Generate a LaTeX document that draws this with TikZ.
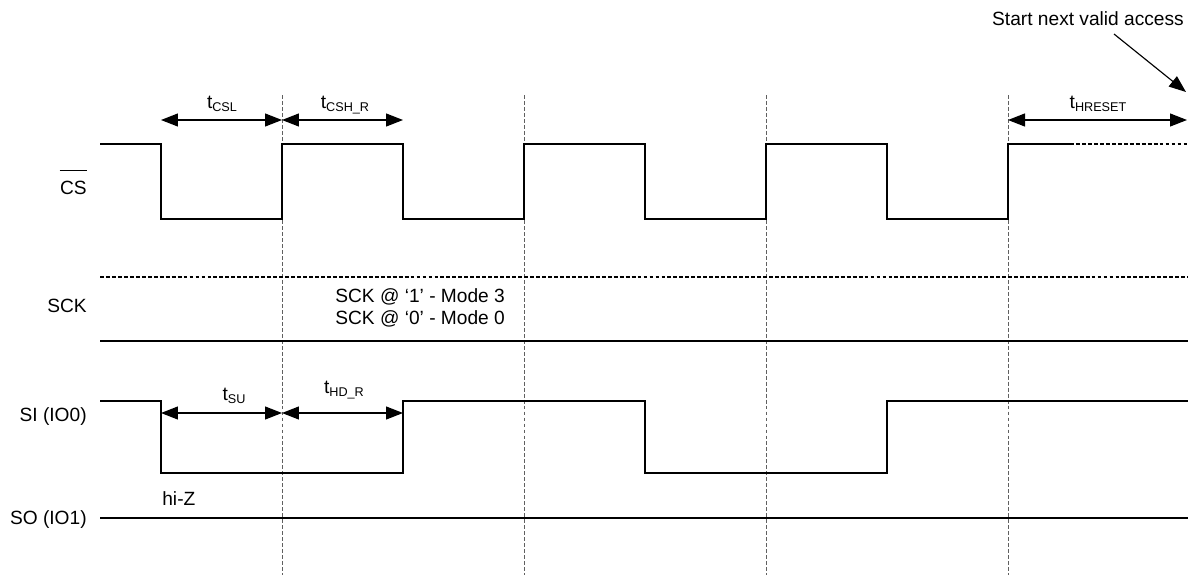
\documentclass[tikz,border=0pt]{standalone}
\usepackage{fontspec}
\setmainfont{Liberation Sans}
\usetikzlibrary{arrows.meta}
\newcommand\tsub[2]{#1\raisebox{-0.3ex}{\fontsize{7.2}{8}\selectfont #2}}
\begin{document}
\begin{tikzpicture}[x=0.02cm,y=-0.02cm,
  every node/.style={inner sep=0pt,font=\fontsize{10.9}{13}\selectfont},
  sig/.style={line width=0.65pt,black},
  sigdash/.style={line width=0.65pt,black,dash pattern=on 2.2pt off 1.2pt},
  guide/.style={line width=0.55pt,gray!75!black,dash pattern=on 2.2pt off 1.2pt},
  dim/.style={line width=0.65pt,{Triangle[length=0.34cm,width=0.26cm]}-{Triangle[length=0.34cm,width=0.26cm]}},
  pointer/.style={line width=0.65pt,-{Triangle[length=0.34cm,width=0.26cm]}},
  lbl/.style={anchor=base east}]
\useasboundingbox (0,0) rectangle (1188,575);
% guides
\foreach \x/\n in {282/a,524/b,766/c,1008/d}{
  \coordinate (g\n t) at (\x,95);
  \coordinate (g\n b) at (\x,575);
  \draw[guide] (g\n t) -- (g\n b);
}
% labels left
\node[lbl] (cs) at (87,194) {CS};
\draw[line width=0.6pt] ([yshift=0.2cm]cs.north west) -- ([yshift=0.2cm]cs.north east);
\node[lbl] (sck) at (87,312) {SCK};
\node[lbl] (si) at (87,421) {SI (IO0)};
\node[lbl] (so) at (87,524) {SO (IO1)};
% CS waveform
\coordinate (csA) at (100,144);
\coordinate (csB) at (1070,144);
\coordinate (csC) at (1188,144);
\draw[sig] (csA) -- (161,144) -- (161,219) -- (282,219) -- (282,144) -- (403,144) -- (403,219) -- (524,219) -- (524,144) -- (645,144) -- (645,219) -- (766,219) -- (766,144) -- (887,144) -- (887,219) -- (1008,219) -- (1008,144) -- (csB);
\draw[sigdash] (csB) -- (csC);
% SCK
\coordinate (sckA) at (100,277);
\coordinate (sckB) at (1188,277);
\coordinate (sckC) at (100,341);
\coordinate (sckD) at (1188,341);
\draw[sigdash] (sckA) -- (sckB);
\draw[sig] (sckC) -- (sckD);
\node[anchor=base west] (m3) at (335,302) {SCK @ ‘1’ - Mode 3};
\node[anchor=base west] (m0) at (335,324) {SCK @ ‘0’ - Mode 0};
% SI
\coordinate (siA) at (100,401);
\coordinate (siB) at (1188,401);
\draw[sig] (siA) -- (161,401) -- (161,473) -- (403,473) -- (403,401) -- (645,401) -- (645,473) -- (887,473) -- (887,401) -- (siB);
% SO
\coordinate (soA) at (100,518);
\coordinate (soB) at (1188,518);
\draw[sig] (soA) -- (soB);
\node[anchor=base west] (hiz) at (162,505) {hi-Z};
% timing arrows
\coordinate (c1) at (161,120);
\coordinate (c2) at (282,120);
\coordinate (c3) at (403,120);
\coordinate (c4) at (1008,120);
\coordinate (c5) at (1187,120);
\draw[dim] (c1) -- (c2);
\draw[dim] (c2) -- (c3);
\draw[dim] (c4) -- (c5);
\node[anchor=base] (tcsl) at (222,108) {\tsub{t}{CSL}};
\node[anchor=base] (tcsh) at (345,108) {\tsub{t}{CSH\_R}};
\node[anchor=base] (thr) at (1098,108) {\tsub{t}{HRESET}};
\coordinate (s1) at (161,413);
\coordinate (s2) at (282,413);
\coordinate (s3) at (403,413);
\draw[dim] (s1) -- (s2);
\draw[dim] (s2) -- (s3);
\node[anchor=base] (tsu) at (234,400) {\tsub{t}{SU}};
\node[anchor=base] (thd) at (344,393) {\tsub{t}{HD\_R}};
% start next valid access
\node[anchor=base] (start) at (1088,25) {Start next valid access};
\coordinate (p1) at (1114,34);
\coordinate (p2) at (1186,92);
\draw[pointer] (p1) -- (p2);
\end{tikzpicture}
\end{document}
